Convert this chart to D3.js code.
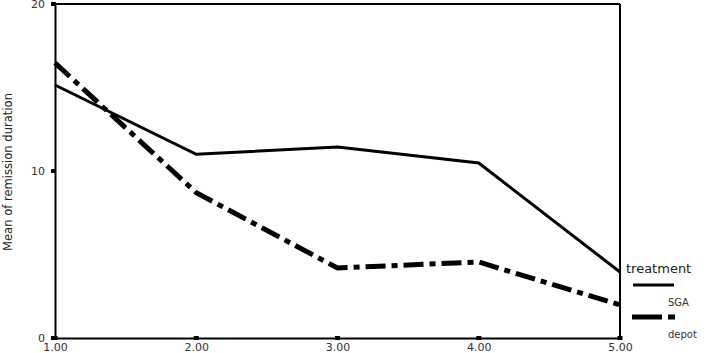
<!DOCTYPE html>
<html>
<head>
<meta charset="utf-8">
<script src="https://cdn.jsdelivr.net/npm/d3@7"></script>
<style>
  body { margin: 0; background: #fff; }
  text { font-family: "DejaVu Sans", sans-serif; fill: #222; }
</style>
</head>
<body>
<svg id="chart" width="710" height="353"></svg>
<script>
const groups = [1, 2, 3, 4, 5];
const sga = [15.15, 11.0, 11.44, 10.48, 3.95];
const depot = [16.47, 8.7, 4.19, 4.55, 1.98];
const xTicks = [1, 2, 3, 4, 5];
const yTicks = [0, 10, 20];
const seriesNames = ["SGA", "depot"];

const svg = d3.select("#chart");

const x = d3.scaleLinear().domain([1, 5]).range([55, 620]);
const y = d3.scaleLinear().domain([0, 20]).range([338, 4]);

// frame
svg.append("line")
  .attr("x1", x(1)).attr("x2", x(5))
  .attr("y1", y(20)).attr("y2", y(20))
  .attr("stroke", "#000").attr("stroke-width", 2);
svg.append("line")
  .attr("x1", x(5)).attr("x2", x(5))
  .attr("y1", y(20)).attr("y2", y(0))
  .attr("stroke", "#000").attr("stroke-width", 2);

// axes
const xAxis = svg.append("g")
  .attr("transform", `translate(0,${y(0)})`)
  .call(d3.axisBottom(x).tickValues(xTicks).tickFormat(d3.format(".2f")).tickSize(0).tickPadding(5));
const yAxis = svg.append("g")
  .attr("transform", `translate(${x(1)},0)`)
  .call(d3.axisLeft(y).tickValues(yTicks).tickSize(0).tickPadding(10));

[xAxis, yAxis].forEach(g => {
  g.select(".domain").attr("stroke", "#000").attr("stroke-width", 2);
  g.selectAll("text").attr("font-size", 11).style("fill", "#333")
    .attr("font-family", "DejaVu Sans");
});

// square tick marks
svg.selectAll("rect.xt").data(xTicks).enter().append("rect")
  .attr("x", d => x(d) - 2.5).attr("y", y(0) - 2).attr("width", 5).attr("height", 4)
  .attr("fill", "#000");
svg.selectAll("rect.yt").data(yTicks).enter().append("rect")
  .attr("x", x(1) - 4).attr("y", d => y(d) - 2).attr("width", 5).attr("height", 4)
  .attr("fill", "#000");

// lines
const line = d3.line().x((d, i) => x(groups[i])).y(d => y(d));

svg.append("path")
  .datum(sga)
  .attr("d", line)
  .attr("fill", "none")
  .attr("stroke", "#000")
  .attr("stroke-width", 3);

svg.append("path")
  .datum(depot)
  .attr("d", line)
  .attr("fill", "none")
  .attr("stroke", "#000")
  .attr("stroke-width", 5)
  .attr("stroke-dasharray", "20,6,6,6");

// y label
svg.append("text")
  .attr("transform", `translate(12,172) rotate(-90)`)
  .attr("text-anchor", "middle")
  .attr("font-size", 13)
  .attr("textLength", 158)
  .attr("lengthAdjust", "spacingAndGlyphs")
  .text("Mean of remission duration");

// legend
svg.append("text")
  .attr("x", 626).attr("y", 273)
  .attr("font-size", 13)
  .text("treatment");

svg.append("line")
  .attr("x1", 633).attr("x2", 674)
  .attr("y1", 285).attr("y2", 285)
  .attr("stroke", "#000").attr("stroke-width", 3);
svg.append("line")
  .attr("x1", 632).attr("x2", 676)
  .attr("y1", 317).attr("y2", 317)
  .attr("stroke", "#000").attr("stroke-width", 5)
  .attr("stroke-dasharray", "30,6,7,20");

svg.selectAll("text.leg").data(seriesNames).enter().append("text")
  .attr("x", 668)
  .attr("y", (d, i) => 306 + i * 32)
  .attr("font-size", 10)
  .style("fill", "#333")
  .text(d => d);
</script>
</body>
</html>
